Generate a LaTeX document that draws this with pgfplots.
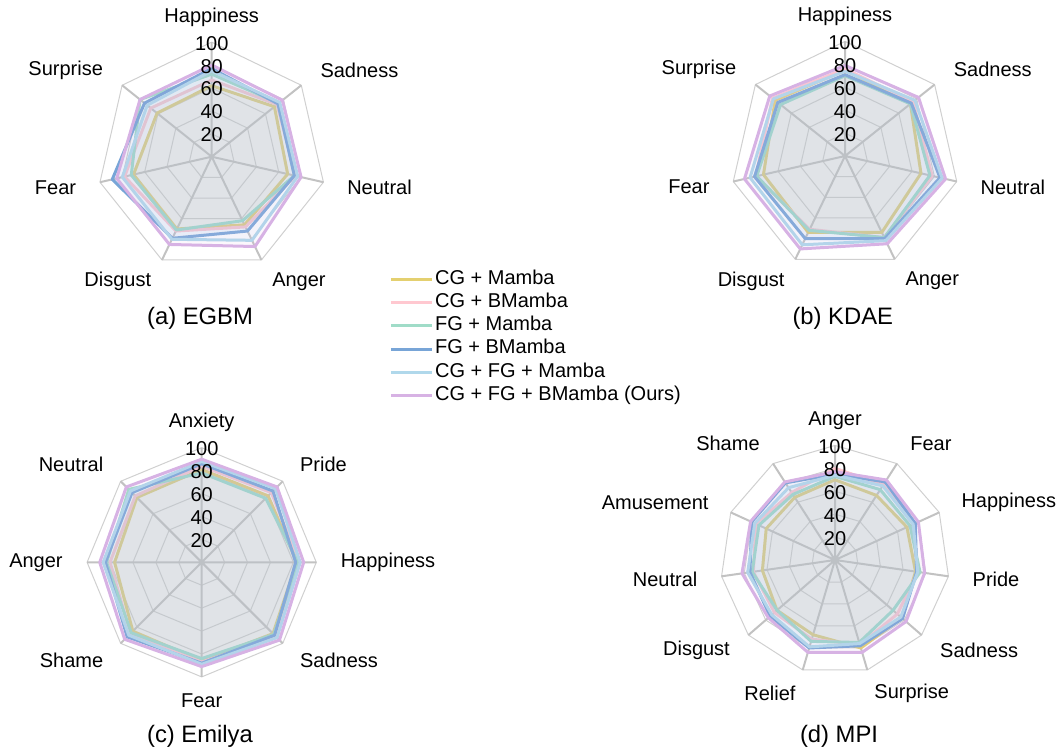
\documentclass[border=0pt]{standalone}
\usepackage{pgfplots}
\pgfplotsset{compat=1.18}
\usepackage{fontspec}
\setmainfont{Liberation Sans}
\definecolor{cY}{RGB}{228,208,112}
\definecolor{cP}{RGB}{255,200,208}
\definecolor{cM}{RGB}{160,220,200}
\definecolor{cB}{RGB}{120,165,215}
\definecolor{cL}{RGB}{176,216,235}
\definecolor{cU}{RGB}{215,178,228}
\definecolor{cRing}{RGB}{208,208,208}
\definecolor{cSpoke}{RGB}{194,194,194}
\newcommand\lf{\fontsize{10}{12}\selectfont}
\tikzset{lab/.style={font=\lf, inner sep=0pt}}
\pgfplotsset{
 radar/.style={x=0.573pt,y=0.573pt,xmin=-130,xmax=130,ymin=-130,ymax=130,hide axis,clip=false,anchor=origin},
 ring/.style={draw=cRing, line width=0.5pt, forget plot, mark=none, data cs=polar, line join=round},
 spoke/.style={draw=cSpoke, line width=1pt, forget plot, mark=none, data cs=polar},
 ser/.style={draw=#1, fill=#1, fill opacity=0.1, line width=1.5pt, line join=round, mark=none, data cs=polar},
}
\newcommand\rticks{%
 \node[font=\lf] at (axis cs:0,19) {20};
 \node[font=\lf] at (axis cs:0,39) {40};
 \node[font=\lf] at (axis cs:0,59) {60};
 \node[font=\lf] at (axis cs:0,79) {80};
 \node[font=\lf] at (axis cs:0,99) {100};}
\begin{document}
\begin{tikzpicture}
\path[use as bounding box] (0,0) rectangle (529pt,-375pt);
% ---------------- (a) EGBM
\begin{axis}[radar, at={(105.85pt,-78.35pt)},
 legend style={at={(1.095,0.129)}, anchor=north west, draw=none, fill=none, inner sep=0pt, row sep=0pt, font=\lf, nodes={inner sep=1pt, text height=7.2pt, text depth=2.45pt}},
 legend cell align=left,
 legend image code/.code={\draw[#1,fill=none] (0pt,0pt) -- (20.35pt,0pt);}]
\pgfplotsinvokeforeach{20,40,60,80,100}{
\addplot[ring] coordinates {(90,#1) (38.571,#1) (-12.857,#1) (-64.286,#1) (-115.714,#1) (-167.143,#1) (141.429,#1) (90,#1)};}
\addplot[spoke] coordinates {(0,0) (90,100) (0,0) (38.571,100) (0,0) (-12.857,100) (0,0) (-64.286,100) (0,0) (-115.714,100) (0,0) (-167.143,100) (0,0) (141.429,100)};
\addplot[ser=cY] coordinates {(90,62) (38.571,70) (-12.857,68) (-64.286,66) (-115.714,70) (-167.143,70) (141.429,61) (90,62)};
\addplot[ser=cP] coordinates {(90,67) (38.571,73) (-12.857,75) (-64.286,68) (-115.714,72) (-167.143,78) (141.429,68) (90,67)};
\addplot[ser=cM] coordinates {(90,72) (38.571,75) (-12.857,74) (-64.286,62) (-115.714,71) (-167.143,72) (141.429,80) (90,72)};
\addplot[ser=cB] coordinates {(90,77) (38.571,74) (-12.857,74) (-64.286,72) (-115.714,79) (-167.143,89) (141.429,75) (90,77)};
\addplot[ser=cL] coordinates {(90,75) (38.571,76) (-12.857,77) (-64.286,81) (-115.714,80) (-167.143,80) (141.429,72) (90,75)};
\addplot[ser=cU] coordinates {(90,80) (38.571,79) (-12.857,80) (-64.286,87) (-115.714,85) (-167.143,85) (141.429,80) (90,80)};
\legend{CG + Mamba, CG + BMamba, FG + Mamba, FG + BMamba, CG + FG + Mamba, CG + FG + BMamba (Ours)}
\rticks
\node[lab] at (axis cs:0,122) {Happiness};
\node[lab,anchor=west] at (axis cs:94.60,75.44) {Sadness};
\node[lab,anchor=west] at (axis cs:117.97,-26.93) {Neutral};
\node[lab,anchor=west] at (axis cs:52.50,-109.02) {Anger};
\node[lab,anchor=east] at (axis cs:-52.50,-109.02) {Disgust};
\node[lab,anchor=east] at (axis cs:-117.97,-26.93) {Fear};
\node[lab,anchor=east] at (axis cs:-94.60,75.44) {Surprise};
\end{axis}
% ---------------- (b) KDAE
\begin{axis}[radar, at={(422.5pt,-78pt)}]
\pgfplotsinvokeforeach{20,40,60,80,100}{
\addplot[ring] coordinates {(90,#1) (38.571,#1) (-12.857,#1) (-64.286,#1) (-115.714,#1) (-167.143,#1) (141.429,#1) (90,#1)};}
\addplot[spoke] coordinates {(0,0) (90,100) (0,0) (38.571,100) (0,0) (-12.857,100) (0,0) (-64.286,100) (0,0) (-115.714,100) (0,0) (-167.143,100) (0,0) (141.429,100)};
\addplot[ser=cY] coordinates {(90,75) (38.571,73) (-12.857,68) (-64.286,74) (-115.714,74) (-167.143,73) (141.429,78) (90,75)};
\addplot[ser=cP] coordinates {(90,76) (38.571,76) (-12.857,78) (-64.286,79) (-115.714,71) (-167.143,80) (141.429,81) (90,76)};
\addplot[ser=cM] coordinates {(90,70) (38.571,73) (-12.857,76) (-64.286,79) (-115.714,72) (-167.143,79) (141.429,72) (90,70)};
\addplot[ser=cB] coordinates {(90,71) (38.571,74) (-12.857,85) (-64.286,80) (-115.714,80) (-167.143,81) (141.429,75) (90,71)};
\addplot[ser=cL] coordinates {(90,74) (38.571,78) (-12.857,87) (-64.286,82) (-115.714,86) (-167.143,85) (141.429,80) (90,74)};
\addplot[ser=cU] coordinates {(90,79) (38.571,82) (-12.857,90) (-64.286,85) (-115.714,90) (-167.143,90) (141.429,84) (90,79)};
\rticks
\node[lab] at (axis cs:0,122) {Happiness};
\node[lab,anchor=west] at (axis cs:94.60,75.44) {Sadness};
\node[lab,anchor=west] at (axis cs:117.97,-26.93) {Neutral};
\node[lab,anchor=west] at (axis cs:52.50,-109.02) {Anger};
\node[lab,anchor=east] at (axis cs:-52.50,-109.02) {Disgust};
\node[lab,anchor=east] at (axis cs:-117.97,-26.93) {Fear};
\node[lab,anchor=east] at (axis cs:-94.60,75.44) {Surprise};
\end{axis}
% ---------------- (c) Emilya
\begin{axis}[radar, at={(100.85pt,-281.15pt)}]
\pgfplotsinvokeforeach{20,40,60,80,100}{
\addplot[ring] coordinates {(90,#1) (45,#1) (0,#1) (-45,#1) (-90,#1) (-135,#1) (180,#1) (135,#1) (90,#1)};}
\addplot[spoke] coordinates {(0,0) (90,100) (0,0) (45,100) (0,0) (0,100) (0,0) (-45,100) (0,0) (-90,100) (0,0) (-135,100) (0,0) (180,100) (0,0) (135,100)};
\addplot[ser=cY] coordinates {(90,81) (45,82) (0,83) (-45,88) (-90,86) (-135,85) (180,76) (135,80) (90,81)};
\addplot[ser=cP] coordinates {(90,84) (45,86) (0,85) (-45,92) (-90,87) (-135,88) (180,80) (135,82) (90,84)};
\addplot[ser=cM] coordinates {(90,78) (45,79) (0,84) (-45,89) (-90,84) (-135,87) (180,83) (135,90) (90,78)};
\addplot[ser=cB] coordinates {(90,86) (45,88) (0,82) (-45,90) (-90,88) (-135,92) (180,84) (135,86) (90,86)};
\addplot[ser=cL] coordinates {(90,88) (45,91) (0,86) (-45,93) (-90,89) (-135,90) (180,86) (135,88) (90,88)};
\addplot[ser=cU] coordinates {(90,90) (45,93) (0,89) (-45,96) (-90,91) (-135,95) (180,89) (135,93) (90,90)};
\rticks
\node[lab] at (axis cs:0,122) {Anxiety};
\node[lab,anchor=west] at (axis cs:85.56,85.56) {Pride};
\node[lab,anchor=west] at (axis cs:121,0) {Happiness};
\node[lab,anchor=west] at (axis cs:85.56,-85.56) {Sadness};
\node[lab] at (axis cs:0,-121) {Fear};
\node[lab,anchor=east] at (axis cs:-85.56,-85.56) {Shame};
\node[lab,anchor=east] at (axis cs:-121,0) {Anger};
\node[lab,anchor=east] at (axis cs:-85.56,85.56) {Neutral};
\end{axis}
% ---------------- (d) MPI
\begin{axis}[radar, at={(417.5pt,-280pt)}]
\pgfplotsinvokeforeach{20,40,60,80,100}{
\addplot[ring] coordinates {(90,#1) (57.273,#1) (24.545,#1) (-8.182,#1) (-40.909,#1) (-73.636,#1) (-106.364,#1) (-139.091,#1) (-171.818,#1) (155.455,#1) (122.727,#1) (90,#1)};}
\addplot[spoke] coordinates {(0,0) (90,100) (0,0) (57.273,100) (0,0) (24.545,100) (0,0) (-8.182,100) (0,0) (-40.909,100) (0,0) (-73.636,100) (0,0) (-106.364,100) (0,0) (-139.091,100) (0,0) (-171.818,100) (0,0) (155.455,100) (0,0) (122.727,100)};
\addplot[ser=cY] coordinates {(90,70) (57.273,67) (24.545,69) (-8.182,71) (-40.909,77) (-73.636,80) (-106.364,68) (-139.091,67) (-171.818,64) (155.455,66) (122.727,65) (90,70)};
\addplot[ser=cP] coordinates {(90,80) (57.273,78) (24.545,75) (-8.182,73) (-40.909,72) (-73.636,77) (-106.364,72) (-139.091,70) (-171.818,72) (155.455,76) (122.727,70) (90,80)};
\addplot[ser=cM] coordinates {(90,73) (57.273,73) (24.545,72) (-8.182,75) (-40.909,67) (-73.636,75) (-106.364,74) (-139.091,67) (-171.818,73) (155.455,73) (122.727,68) (90,73)};
\addplot[ser=cB] coordinates {(90,75) (57.273,81) (24.545,77) (-8.182,72) (-40.909,78) (-73.636,78) (-106.364,80) (-139.091,75) (-171.818,75) (155.455,80) (122.727,80) (90,75)};
\addplot[ser=cL] coordinates {(90,74) (57.273,77) (24.545,75) (-8.182,73) (-40.909,76) (-73.636,76) (-106.364,79) (-139.091,73) (-171.818,77) (155.455,77) (122.727,75) (90,74)};
\addplot[ser=cU] coordinates {(90,77) (57.273,83) (24.545,80) (-8.182,79) (-40.909,82) (-73.636,84) (-106.364,84) (-139.091,77) (-171.818,82) (155.455,81) (122.727,81) (90,77)};
\rticks
\node[lab] at (axis cs:0,122) {Anger};
\node[lab,anchor=west] at (axis cs:65.42,101.79) {Fear};
\node[lab,anchor=west] at (axis cs:110.07,50.27) {Happiness};
\node[lab,anchor=west] at (axis cs:119.77,-17.22) {Pride};
\node[lab,anchor=west] at (axis cs:91.45,-79.24) {Sadness};
\node[lab,anchor=west] at (axis cs:34.09,-116.10) {Surprise};
\node[lab,anchor=east] at (axis cs:-34.09,-116.10) {Relief};
\node[lab,anchor=east] at (axis cs:-91.45,-79.24) {Disgust};
\node[lab,anchor=east] at (axis cs:-119.77,-17.22) {Neutral};
\node[lab,anchor=east] at (axis cs:-110.07,50.27) {Amusement};
\node[lab,anchor=east] at (axis cs:-65.42,101.79) {Shame};
\end{axis}
% captions
\node[font=\fontsize{11.9}{14}\selectfont] at (100pt,-159pt) {(a) EGBM};
\node[font=\fontsize{11.9}{14}\selectfont] at (421.4pt,-159pt) {(b) KDAE};
\node[font=\fontsize{11.9}{14}\selectfont] at (100pt,-368.3pt) {(c) Emilya};
\node[font=\fontsize{11.9}{14}\selectfont] at (419.5pt,-368.3pt) {(d) MPI};
\end{tikzpicture}
\end{document}
